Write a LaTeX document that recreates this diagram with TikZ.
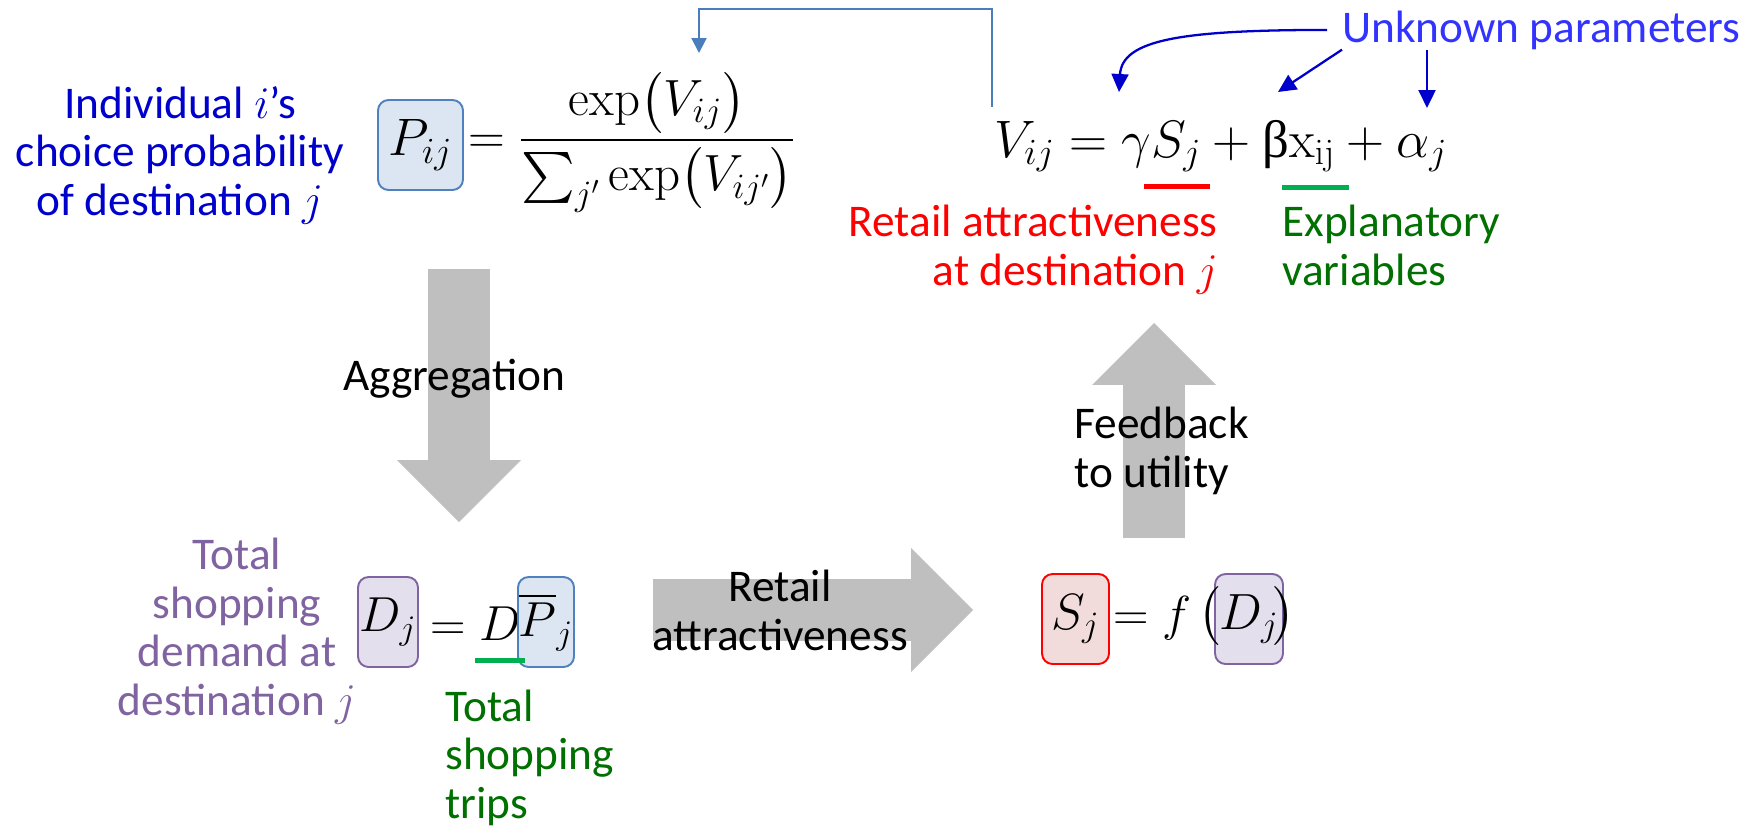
\RequirePackage{fix-cm}
\documentclass[tikz,border=0pt]{standalone}
\usepackage{amsmath,amssymb}
\usepackage[no-math]{fontspec}
\setmainfont{Carlito}
\newfontfamily\grkfont{Liberation Serif}
\usepackage{tikz}
\usetikzlibrary{calc,positioning,arrows.meta}

\definecolor{chblue}{RGB}{0,0,204}
\definecolor{unkblue}{RGB}{51,51,255}
\definecolor{fbblue}{RGB}{74,126,187}
\definecolor{pbfill}{RGB}{220,230,242}
\definecolor{pbdraw}{RGB}{79,129,189}
\definecolor{dmfill}{RGB}{228,223,236}
\definecolor{dmdraw}{RGB}{128,100,162}
\definecolor{safill}{RGB}{242,220,219}
\definecolor{arrgray}{RGB}{191,191,191}
\definecolor{expgreen}{RGB}{0,112,0}
\definecolor{ulgreen}{RGB}{0,176,80}

\begin{document}
\begin{tikzpicture}[x=0.02cm, y=-0.02cm,
  lbl/.style={font=\fontsize{25.8}{27.6}\selectfont, inner sep=0pt},
  meq/.style={font=\fontsize{#1}{#1}\selectfont, inner sep=0pt},
  varbox/.style={rounded corners=6pt, line width=1.1pt, minimum width=#1, minimum height=1.8cm, inner sep=0pt},
  flow/.style={draw=arrgray, line width=1.25cm, -{Triangle[width=2.48cm, length=1.24cm, line width=0pt]}},
  parrow/.style={draw=chblue, line width=1.3pt, -{Triangle[width=0.34cm, length=0.36cm]}},
  fbline/.style={draw=fbblue, line width=1.2pt, -{Triangle[width=0.3cm, length=0.3cm]}},
  uline/.style={line width=0.1cm}]
\useasboundingbox (0,0) rectangle (1746,829);

% block arrows
\coordinate (aggtop) at (459,269);
\coordinate (aggend) at (459,522);
\coordinate (retstart) at (653,610);
\coordinate (retend) at (973,610);
\coordinate (fbbottom) at (1154,538);
\coordinate (fbhead) at (1154,323);
\draw [flow] (aggtop) -- (aggend);
\draw [flow] (retstart) -- (retend);
\draw [flow] (fbbottom) -- (fbhead);

% choice probability
\node [lbl, text=chblue, align=center, anchor=base] (chprob) at (180,215) {Individual $i$'s\\choice probability\\of destination $j$};
\node [varbox=1.7cm, draw=pbdraw, fill=pbfill, meq=30] (pbox) at (420.5,145) {$P_{ij}$};
\node [meq=29, anchor=base west] (peq) at (468,153) {$=\dfrac{\exp\bigl(V_{ij}\bigr)}{\textstyle\sum_{j'}\exp\bigl(V_{ij'}\bigr)}$};

% utility
\node [meq=30, anchor=base west] (util) at (994,157) {$V_{ij} = \gamma S_j + \mbox{\grkfont β}\mathrm{x}_{\mathrm{ij}} + \alpha_j$};
\draw [uline, red] (1144,186) -- (1210,186);
\draw [uline, ulgreen] (1282,187) -- (1349,187);
\node [lbl, text=red, align=right, anchor=base east] (retattr) at (1218,285) {Retail attractiveness\\at destination $j$};
\node [lbl, text=expgreen, align=left, anchor=base west] (expvar) at (1282,285) {Explanatory\\variables};

\node [lbl, text=unkblue, anchor=base west] (unk) at (1342,42) {Unknown parameters};
\coordinate (gamtip) at (1119,92);
\coordinate (betatip) at (1278,92);
\coordinate (alphatip) at (1427,108);
\draw [parrow] ([xshift=-0.3cm]unk.west) .. controls (1180,30) and (1122,40) .. (gamtip);
\draw [parrow] (unk.south west) -- (betatip);
\draw [parrow] (alphatip |- unk.south) -- (alphatip);

\coordinate (fbstart) at (992,107);
\coordinate (fbend) at (699,53);
\coordinate (fbtop) at (0,9);
\draw [fbline] (fbstart) -- (fbstart |- fbtop) -| (fbend);

% demand
\node [lbl, text=dmdraw, align=center, anchor=base] (totdem) at (237,715) {Total\\shopping\\demand at\\destination $j$};
\node [varbox=1.2cm, draw=dmdraw, fill=dmfill, meq=28] (dbox) at (388,622) {$D_j$};
\node [meq=28, anchor=base west] (deq) at (430,640) {$= D$};
\node [varbox=1.12cm, draw=pbdraw, fill=pbfill, meq=28] (pbarbox) at (546,622) {$\overline{P}_j$};
\draw [uline, ulgreen] (475,660) -- (525,660);
\node [lbl, text=expgreen, align=left, anchor=base west] (tottrip) at (445,818) {Total\\shopping\\trips};

% attractiveness
\node [varbox=1.34cm, draw=red, fill=safill, meq=29] (sbox) at (1075.5,619) {$S_j$};
\node [meq=28, anchor=base west] (seq) at (1113,630) {$= f$};
\node [varbox=1.36cm, draw=dmdraw, fill=dmfill, meq=29] (dbox2) at (1249,619) {$D_j$};
\node [font=\fontsize{28}{38}\selectfont, inner sep=0pt] (lpar) at (1210,616) {$\bigl($};
\node [font=\fontsize{28}{38}\selectfont, inner sep=0pt] (rpar) at (1284,616) {$\bigr)$};

% arrow labels
\node [lbl, anchor=base] (agglbl) at (454,390) {Aggregation};
\node [lbl, align=center, anchor=base] (retlbl) at (780,650) {Retail\\attractiveness};
\node [lbl, align=left, anchor=base west] (fblbl) at (1074,487) {Feedback\\to utility};
\end{tikzpicture}
\end{document}
